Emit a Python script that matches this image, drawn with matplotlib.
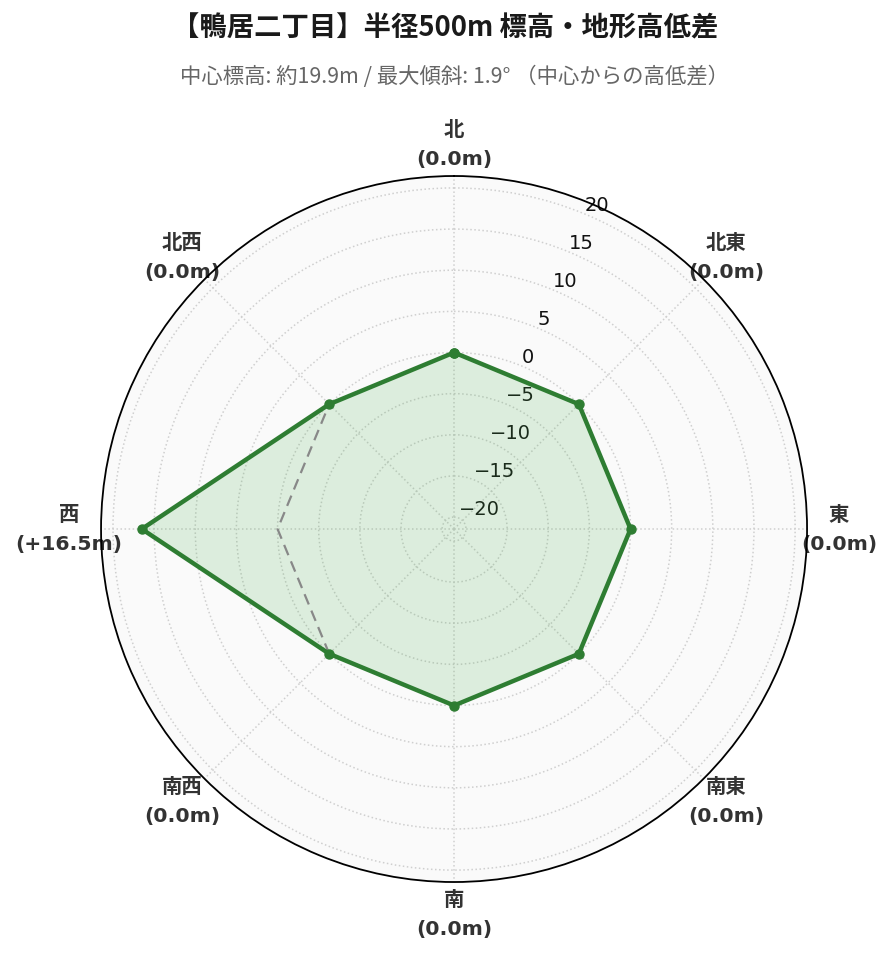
import numpy as np
import matplotlib
matplotlib.use("Agg")
import matplotlib.pyplot as plt

# 方位ごとの高低差データ (中心からの差, m)
directions = ["北", "北東", "東", "南東", "南", "南西", "西", "北西"]
diffs = [0.0, 0.0, 0.0, 0.0, 0.0, 0.0, 16.5, 0.0]
r_ticks = [-20, -15, -10, -5, 0, 5, 10, 15, 20]

title = "【鴨居二丁目】半径500m 標高・地形高低差"
subtitle = "中心標高: 約19.9m / 最大傾斜: 1.9° （中心からの高低差）"

plt.rcParams['font.family'] = ['DejaVu Sans', 'Noto Sans CJK JP']

green = '#2e7d32'
n = len(directions)
angles = np.linspace(0, 2 * np.pi, n, endpoint=False)
ang_c = np.append(angles, angles[0])
val_c = np.append(diffs, diffs[0])
zero_c = np.zeros_like(ang_c)

fig = plt.figure(figsize=(8.91, 9.62), dpi=100)
ax = fig.add_axes([0.1134, 0.0821, 0.7924, 0.7339], projection='polar')
ax.set_theta_zero_location('N')
ax.set_theta_direction(-1)
ax.set_facecolor('#fafafa')

lim = max(abs(v) for v in diffs) * 1.3
ax.set_ylim(-lim, lim)

# 基準線(0m)
ax.plot(ang_c, zero_c, color='#888888', lw=1.6, ls=(0, (5, 3)), zorder=3)
# 高低差
ax.fill(ang_c, val_c, color='#4caf50', alpha=0.17, zorder=2)
ax.plot(ang_c, val_c, color=green, lw=3.2, marker='o', markersize=6.5, zorder=4)

ax.set_yticks(r_ticks)
ax.set_yticklabels([f"{t}".replace('-', '\u2212') for t in r_ticks], fontsize=14, color='#111111')
ax.set_rlabel_position(22.5)
ax.set_xticks(angles)
ax.set_xticklabels([])
ax.grid(True, color='#cfcfcf', ls=':', lw=1.1)
ax.spines['polar'].set_color('black')
ax.spines['polar'].set_linewidth(1.3)

# 方位ラベル
for a, d, v in zip(angles, directions, diffs):
    s = f"+{v:.1f}m" if v > 0 else f"{v:.1f}m"
    x = 0.5 + 0.5453 * np.sin(a)
    y = 0.5 + 0.5453 * np.cos(a)
    ax.text(x, y, f"{d}\n({s})", transform=ax.transAxes, ha='center', va='center',
            fontsize=14.7, fontweight='bold', color='#333333', linespacing=1.65,
            clip_on=False, zorder=2)

fig.text(0.5, 1 - 28 / 962, title, ha='center', va='center', fontsize=19.7,
         fontweight='bold', color='#1a1a1a', family=['Noto Sans CJK JP', 'DejaVu Sans'])
fig.text(0.5 + 9 / 891, 1 - 77 / 962, subtitle, ha='center', va='center', fontsize=15.4,
         color='#666666', family=['Noto Sans CJK JP', 'DejaVu Sans'])

fig.savefig('out.png', dpi=100)
